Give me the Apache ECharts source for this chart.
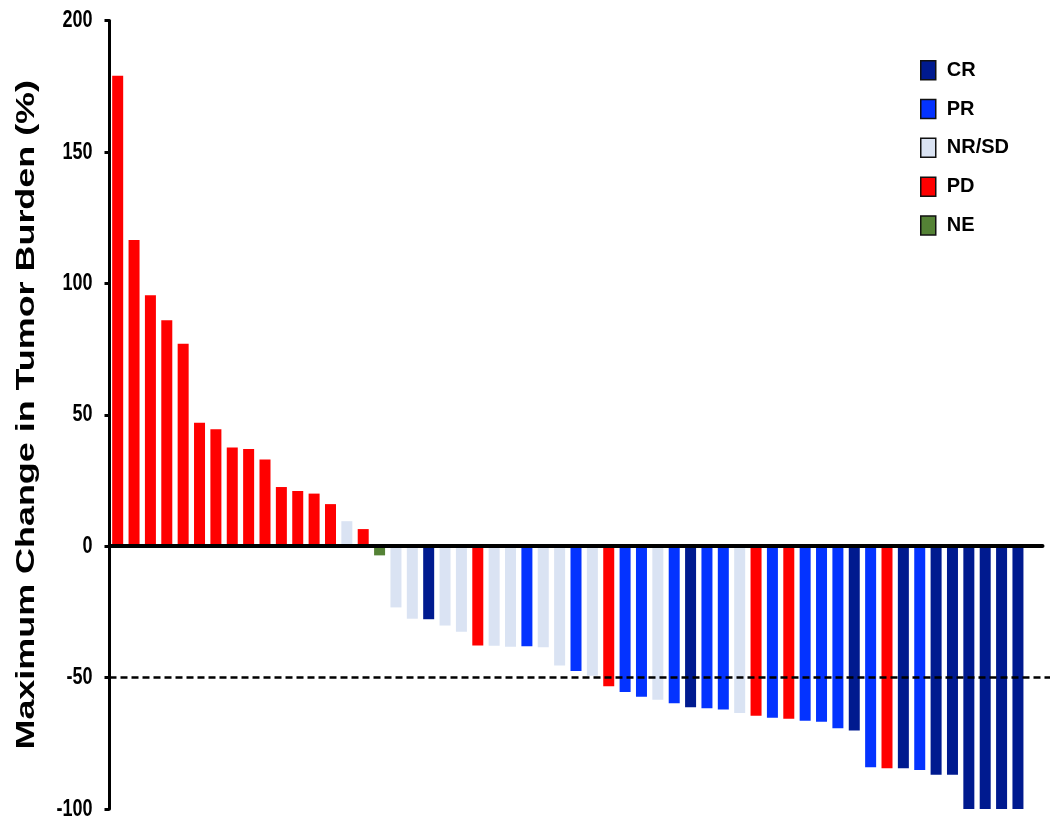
<!DOCTYPE html>
<html>
<head>
<meta charset="utf-8">
<script src="https://cdn.jsdelivr.net/npm/echarts@6/dist/echarts.min.js"></script>
<style>html,body{margin:0;padding:0;background:#fff}#c{width:1050px;height:822px}</style>
</head>
<body>
<div id="c"></div>
<script>
// ---- data ----
var categories = ['1','2','3','4','5','6','7','8','9','10','11','12','13','14','15','16','17','18','19','20',
  '21','22','23','24','25','26','27','28','29','30','31','32','33','34','35','36','37','38','39','40',
  '41','42','43','44','45','46','47','48','49','50','51','52','53','54','55','56',''];
var values = [179, 116.5, 95.5, 86, 77, 47, 44.5, 37.5, 37, 33, 22.5, 21, 20, 16, 9.5, 6.5, -3.5,
  -23.3, -27.6, -27.8, -30.2, -32.6, -37.8, -37.9, -38.3, -38.1, -38.5, -45.4, -47.5, -49.3,
  -53.3, -55.5, -57.3, -58.4, -59.8, -61.3, -61.7, -62.1, -63.5, -64.5, -65.3, -65.7, -66.4,
  -66.8, -69.3, -70.1, -84.1, -84.5, -84.5, -85.2, -87, -87, -100, -100, -100, -100, null];
var responses = ['PD','PD','PD','PD','PD','PD','PD','PD','PD','PD','PD','PD','PD','PD','NR/SD','PD','NE',
  'NR/SD','NR/SD','CR','NR/SD','NR/SD','PD','NR/SD','NR/SD','PR','NR/SD','NR/SD','PR','NR/SD',
  'PD','PR','PR','NR/SD','PR','CR','PR','PR','NR/SD','PD','PR','PD','PR',
  'PR','PR','CR','PR','PD','CR','PR','CR','CR','CR','CR','CR','CR',''];
var responseTypes = ['CR','PR','NR/SD','PD','NE'];
var responseColors = ['#001A8F','#0433FF','#DAE3F3','#FF0000','#548235'];
var yTicks = [-100, -50, 0, 50, 100, 150, 200];
var yTitle = 'Maximum Change in Tumor Burden (%)';
var thresholdLine = -50;

// ---- chart ----
var chart = echarts.init(document.getElementById('c'), null, {renderer:'canvas'});
var sans = '"Liberation Sans",Arial,sans-serif';
var series = responseTypes.map(function(t, k){
  return {
    name: t,
    type: 'bar',
    barWidth: 11,
    barGap: '-100%',
    itemStyle: {color: responseColors[k]},
    data: values.map(function(v, i){ return responses[i] === t ? v : null; })
  };
});
var dashStyle = {color: '#000', type: [7,4], width: 2.5};
series[series.length-1].markLine = {
  silent: true, symbol: 'none', z: 10,
  label: {show: false},
  lineStyle: dashStyle,
  data: [{yAxis: thresholdLine}]
};
chart.setOption({
  animation: false,
  backgroundColor: '#fff',
  grid: {left: 109.5, right: 7.5, top: 20.5, bottom: 13, containLabel: false},
  legend: {
    orient: 'vertical', left: 920, top: 60, padding: 0,
    itemWidth: 15, itemHeight: 19, itemGap: 18.3,
    icon: 'rect',
    itemStyle: {borderColor: '#111', borderWidth: 1.5},
    textStyle: {fontFamily: sans, fontWeight: 'bold', fontSize: 20, color: '#000', padding: [0,0,0,6]},
    data: responseTypes
  },
  xAxis: {
    type: 'category', data: categories, z: 5,
    axisLine: {onZero: true, lineStyle: {color: '#000', width: 4}},
    axisTick: {show: false}, axisLabel: {show: false}, splitLine: {show: false}
  },
  yAxis: {
    type: 'value', min: yTicks[0], max: yTicks[yTicks.length-1], interval: 50,
    axisLine: {show: true, onZero: false, lineStyle: {color: '#000', width: 3}},
    axisTick: {show: true, length: 5, lineStyle: {color: '#000', width: 3}},
    axisLabel: {show: false},
    splitLine: {show: false}
  },
  series: series
});

// Tick labels, axis title and threshold line, positioned through the library's own scales
var c0 = chart.convertToPixel({xAxisIndex: 0}, categories[0]);
var c1 = chart.convertToPixel({xAxisIndex: 0}, categories[1]);
var axisX = c0 - (c1 - c0) / 2;
var yTop = chart.convertToPixel({yAxisIndex: 0}, yTicks[yTicks.length-1]);
var yBot = chart.convertToPixel({yAxisIndex: 0}, yTicks[0]);
var yThr = chart.convertToPixel({yAxisIndex: 0}, thresholdLine);
var graphics = yTicks.map(function(v){
  return {
    type: 'text', x: axisX - 17, y: chart.convertToPixel({yAxisIndex: 0}, v), scaleX: 0.75,
    style: {text: String(v), fontFamily: sans, fontWeight: 'bold', fontSize: 24, fill: '#000',
      align: 'right', verticalAlign: 'middle'}
  };
});
graphics.push({
  type: 'text', x: axisX - 82, y: (yTop + yBot) / 2, rotation: Math.PI/2, scaleX: 1.436,
  style: {text: yTitle, fontFamily: sans, fontWeight: 'bold', fontSize: 25, fill: '#000',
    align: 'center', verticalAlign: 'middle'}
});
var lastSeries = responseTypes.map(function(){ return {}; });
lastSeries[lastSeries.length-1] = {
  markLine: {
    silent: true, symbol: 'none', z: 10, label: {show: false}, lineStyle: dashStyle,
    data: [[{x: axisX, y: yThr}, {x: chart.getWidth(), y: yThr}]]
  }
};
chart.setOption({graphic: graphics, series: lastSeries});
</script>
</body>
</html>
